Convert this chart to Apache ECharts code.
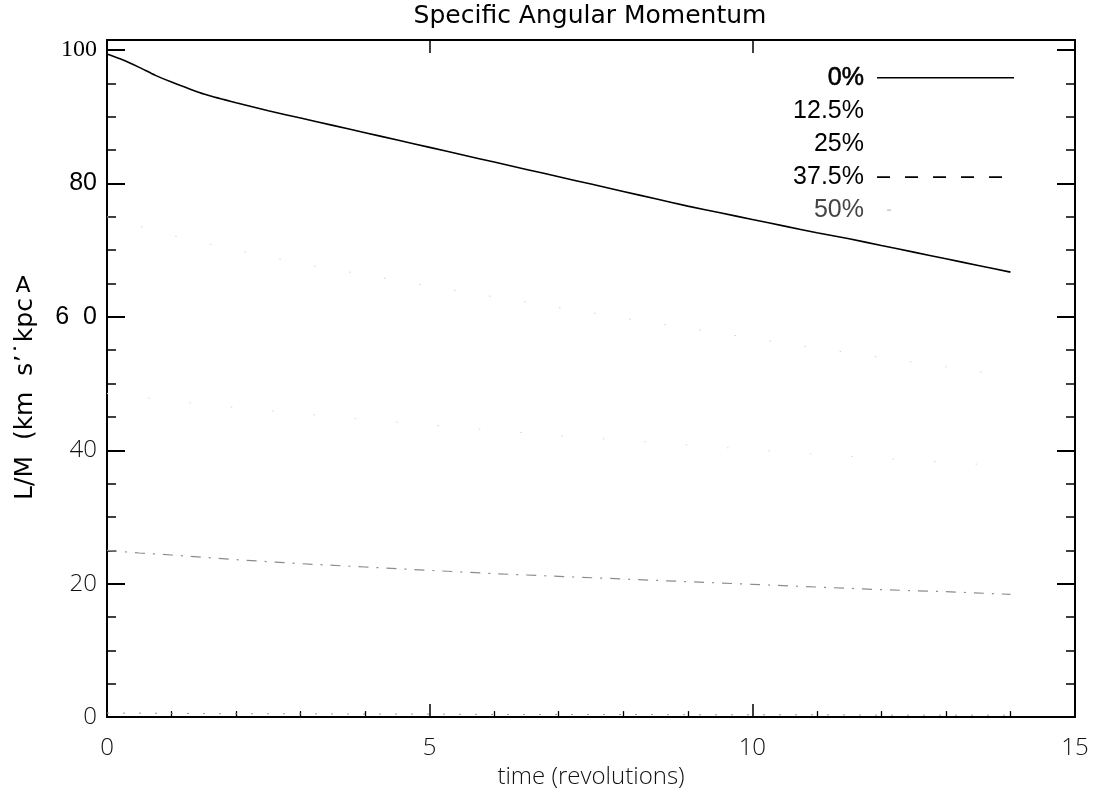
<!DOCTYPE html>
<html>
<head>
<meta charset="utf-8">
<title>Specific Angular Momentum</title>
<script src="https://cdn.jsdelivr.net/npm/echarts@6/dist/echarts.min.js"></script>
<style>
  html, body { margin: 0; padding: 0; background: #fff; }
  #chart { width: 1100px; height: 794px; }
</style>
</head>
<body>
<div id="chart"></div>
<script>
// ---- data ----
const seriesNames = ['0%', '12.5%', '25%', '37.5%', '50%'];

// dense sampling for the 0% run
const timeFine = [0, 0.25, 0.5, 0.75, 1, 1.5, 2, 2.5, 3, 3.5, 4, 4.5, 5, 5.5, 6, 6.5,
                  7, 7.5, 8, 8.5, 9, 9.5, 10, 10.5, 11, 11.5, 12, 12.5, 13, 13.5, 14];
const momentum0 = [99.4, 98.5, 97.4, 96.2, 95.2, 93.4, 92.1, 90.9, 89.8, 88.7, 87.6, 86.5,
                   85.4, 84.3, 83.2, 82.1, 81.0, 79.9, 78.8, 77.7, 76.6, 75.6, 74.6, 73.6,
                   72.6, 71.7, 70.7, 69.7, 68.7, 67.7, 66.7];

// coarser sampling for the other runs
const timeCoarse = [0, 0.5, 1, 2, 3, 4, 5, 6, 7, 8, 9, 10, 11, 12, 13, 14];
const momentum125 = [75.0, 73.6, 72.2, 70.0, 68.0, 66.3, 64.6, 63.0, 61.4, 59.8, 58.3, 56.8, 55.3, 53.9, 52.5, 51.1];
const momentum25  = [48.5, 48.0, 47.4, 46.4, 45.5, 44.6, 43.8, 43.0, 42.2, 41.5, 40.8, 40.1, 39.4, 38.8, 38.2, 37.6];
const momentum375 = [25.0, 24.6, 24.3, 23.6, 23.0, 22.5, 22.0, 21.5, 21.1, 20.7, 20.3, 19.9, 19.5, 19.1, 18.8, 18.4];
const momentum50  = [0.6, 0.6, 0.55, 0.5, 0.5, 0.45, 0.45, 0.4, 0.4, 0.4, 0.35, 0.35, 0.35, 0.3, 0.3, 0.3];

// tick labels
const yTickValues = [0, 20, 40, 60, 80, 100];
const yTickText = ['0', '20', '40', '6  0', '80', '100'];
const xTickValues = [0, 5, 10, 15];
const xTickText = ['0', '5', '10', '15'];

const chartTitle = 'Specific Angular Momentum';
const xAxisTitle = 'time (revolutions)';
const yAxisTitle = 'L/M  (km  s\u2019\u02D9kpc';
const yAxisMark = 'A';

// ---- helpers ----
const pairs = (xs, ys) => xs.map((x, i) => [x, ys[i]]);

const LIGHT = '"Open Sans", "DejaVu Sans", sans-serif';
const SANS = '"Liberation Sans", Arial, sans-serif';
const SERIF = '"Liberation Serif", "Times New Roman", serif';
const WIDE = '"DejaVu Sans", sans-serif';

const yLabelStyle = ['l', 'l', 'l', 's', 's', 'r'];

// every axis stays on the plot frame, never on the other axis' zero
const frameLine = { show: true, onZero: false, lineStyle: { color: '#000', width: 2 } };
const noLine = { show: false, onZero: false };

const chart = echarts.init(document.getElementById('chart'), null, { renderer: 'canvas' });

const option = {
  backgroundColor: '#fff',
  animation: false,
  title: {
    text: chartTitle,
    left: 590,
    top: 4,
    textAlign: 'center',
    padding: 0,
    textStyle: { fontFamily: WIDE, fontSize: 25, fontWeight: 'normal', color: '#000' }
  },
  grid: { left: 107, right: 25, top: 40, bottom: 70, containLabel: false },
  legend: {
    orient: 'vertical',
    align: 'right',
    right: 85,
    top: 65,
    padding: 0,
    itemWidth: 137,
    itemHeight: 14,
    itemGap: 8,
    selectedMode: false,
    itemStyle: { opacity: 0, color: 'rgba(0,0,0,0)', borderColor: 'rgba(0,0,0,0)', borderWidth: 0 },
    textStyle: { fontFamily: SANS, fontSize: 25, color: '#000', padding: [0, 8, 0, 0] },
    data: [
      { name: seriesNames[0], textStyle: { textBorderColor: '#000', textBorderWidth: 0.6 },
        lineStyle: { color: '#000', width: 1.6, type: 'solid' } },
      { name: seriesNames[1], lineStyle: { color: 'rgba(0,0,0,0)' } },
      { name: seriesNames[2], lineStyle: { color: 'rgba(0,0,0,0)' } },
      { name: seriesNames[3], lineStyle: { color: '#000', width: 1.8, type: [13, 15], opacity: 1 } },
      { name: seriesNames[4], textStyle: { color: '#444' },
        lineStyle: { color: '#aaa', width: 1, type: [4, 400], dashOffset: -10 } }
    ]
  },
  xAxis: [
    {
      type: 'value', position: 'bottom', min: 0, max: 15, interval: 5,
      axisLine: frameLine,
      axisTick: { show: true, inside: true, length: 13, lineStyle: { color: '#000', width: 1.5 } },
      minorTick: { show: true, splitNumber: 5, length: 6, lineStyle: { color: '#000', width: 1.3 } },
      splitLine: { show: false },
      axisLabel: {
        margin: 19, fontFamily: LIGHT, fontWeight: 300, fontSize: 24, color: '#111',
        formatter: v => { const i = xTickValues.indexOf(v); return i < 0 ? '' : xTickText[i]; }
      },
      name: xAxisTitle, nameLocation: 'middle', nameGap: 38,
      nameTextStyle: { fontFamily: LIGHT, fontWeight: 300, fontSize: 24, color: '#111' }
    },
    {
      type: 'value', position: 'top', min: 0, max: 15, interval: 5,
      axisLine: frameLine,
      axisTick: { show: true, inside: true, length: 13, lineStyle: { color: '#000', width: 1.5 } },
      axisLabel: { show: false },
      splitLine: { show: false }
    }
  ],
  yAxis: [
    {
      // left axis: frame, major ticks and labels
      type: 'value', position: 'left', min: 0, max: 101.5, interval: 20,
      axisLine: frameLine,
      axisTick: { show: true, inside: true, length: 18, lineStyle: { color: '#000', width: 2 } },
      splitLine: { show: false },
      axisLabel: {
        margin: 10, color: '#000',
        formatter: v => {
          const i = yTickValues.indexOf(v);
          return i < 0 ? '' : '{' + yLabelStyle[i] + '|' + yTickText[i] + '}';
        },
        rich: {
          l: { fontFamily: LIGHT, fontWeight: 300, fontSize: 24, color: '#111' },
          s: { fontFamily: SANS, fontSize: 25, color: '#000' },
          r: { fontFamily: SERIF, fontSize: 24, color: '#000' }
        }
      }
    },
    {
      // right frame with major ticks
      type: 'value', position: 'right', min: 0, max: 101.5, interval: 20,
      axisLine: frameLine,
      axisTick: { show: true, inside: true, length: 18, lineStyle: { color: '#000', width: 2 } },
      axisLabel: { show: false },
      splitLine: { show: false }
    },
    {
      // left minor ticks every 5
      type: 'value', position: 'left', min: 0, max: 101.5, interval: 5,
      axisLine: noLine,
      axisTick: { show: true, inside: true, length: 9, lineStyle: { color: '#000', width: 1.5 } },
      axisLabel: { show: false },
      splitLine: { show: false }
    },
    {
      // right minor ticks every 5
      type: 'value', position: 'right', min: 0, max: 101.5, interval: 5,
      axisLine: noLine,
      axisTick: { show: true, inside: true, length: 9, lineStyle: { color: '#000', width: 1.5 } },
      axisLabel: { show: false },
      splitLine: { show: false }
    }
  ],
  series: [
    {
      name: seriesNames[4], type: 'line', yAxisIndex: 0, symbol: 'none', silent: true,
      itemStyle: { color: '#999' },
      lineStyle: { color: '#999', width: 1, type: [2, 14] },
      data: pairs(timeCoarse, momentum50), z: 2
    },
    {
      name: seriesNames[3], type: 'line', yAxisIndex: 0, symbol: 'none', silent: true,
      itemStyle: { color: '#8c8c8c' },
      lineStyle: { color: '#8c8c8c', width: 1.2, type: [10, 8, 2, 8] },
      data: pairs(timeCoarse, momentum375), z: 3
    },
    {
      name: seriesNames[2], type: 'line', yAxisIndex: 0, symbol: 'none', silent: true,
      itemStyle: { color: '#d6d6d6' },
      lineStyle: { color: '#d6d6d6', width: 1, type: [1.5, 40] },
      data: pairs(timeCoarse, momentum25), z: 2
    },
    {
      name: seriesNames[1], type: 'line', yAxisIndex: 0, symbol: 'none', silent: true,
      itemStyle: { color: '#d0d0d0' },
      lineStyle: { color: '#d0d0d0', width: 1, type: [1.5, 34] },
      data: pairs(timeCoarse, momentum125), z: 2
    },
    {
      name: seriesNames[0], type: 'line', yAxisIndex: 0, symbol: 'none', silent: true,
      smooth: 0.25,
      itemStyle: { color: '#000' },
      lineStyle: { color: '#000', width: 1.6, type: 'solid' },
      data: pairs(timeFine, momentum0), z: 4
    }
  ],
  graphic: [
    {
      type: 'text', x: 25, y: 399, rotation: Math.PI / 2,
      style: { text: yAxisTitle, fontFamily: WIDE, fontSize: 25, fill: '#000', align: 'center', verticalAlign: 'middle' }
    },
    {
      type: 'text', x: 23, y: 286,
      style: { text: yAxisMark, fontFamily: WIDE, fontSize: 22, fill: '#000', align: 'center', verticalAlign: 'middle' }
    }
  ]
};

chart.setOption(option);
</script>
</body>
</html>
